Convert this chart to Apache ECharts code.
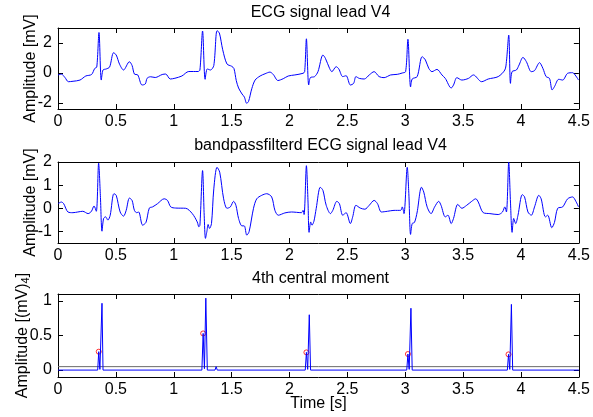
<!DOCTYPE html>
<html>
<head>
<meta charset="utf-8">
<script src="https://cdn.jsdelivr.net/npm/echarts@6/dist/echarts.min.js"></script>
<style>
html, body { margin: 0; padding: 0; background: #fff; }
#chart { width: 593px; height: 417px; }
</style>
</head>
<body>
<div id="chart"></div>
<script>
// raw ECG lead V4, [time s, amplitude mV]
var ecgRaw = [
    [0,-0.13],[0.03,-0.08],[0.06,-0.3],[0.09,-0.58],[0.13,-0.55],[0.19,-0.47],[0.24,-0.2],[0.29,-0.1],
    [0.317,0.3],[0.335,0.4],[0.354,2.7],[0.374,-0.47],[0.389,0.2],[0.417,0.27],[0.446,0.4],[0.48,1.35],
    [0.503,1.2],[0.531,0.6],[0.566,0.2],[0.617,0.75],[0.64,0.5],[0.66,-0.07],[0.689,-0.13],[0.726,-0.8],
    [0.754,-0.73],[0.77,-0.35],[0.8,-0.25],[0.84,-0.3],[0.9,-0.1],[0.93,-0.07],[0.97,-0.4],[1.01,-0.35],
    [1.07,-0.2],[1.13,0.1],[1.21,0.1],[1.226,0.2],[1.249,2.8],[1.271,-0.42],[1.29,0.27],[1.317,0.2],
    [1.346,0.5],[1.374,2.82],[1.394,2.67],[1.423,1.55],[1.46,0.6],[1.5,0.45],[1.52,0.3],[1.54,-0.5],
    [1.56,-1.0],[1.59,-1.4],[1.61,-1.6],[1.63,-2.02],[1.646,-1.9],[1.674,-1.05],[1.703,-0.47],[1.746,-0.2],
    [1.789,-0.05],[1.831,0.06],[1.86,-0.1],[1.9,-0.5],[1.946,-0.38],[1.989,-0.2],[2.046,-0.13],[2.117,-0.02],
    [2.131,0.09],[2.146,2.28],[2.166,-0.8],[2.18,-0.31],[2.217,-0.24],[2.246,0.09],[2.289,1.2],[2.31,0.98],
    [2.346,0.31],[2.366,0.09],[2.403,0.42],[2.426,0.27],[2.46,-0.24],[2.489,-0.18],[2.526,-0.8],[2.554,-0.69],
    [2.574,-0.24],[2.603,-0.36],[2.646,-0.4],[2.689,-0.13],[2.731,0.09],[2.774,-0.24],[2.817,-0.31],[2.874,-0.13],
    [2.931,-0.09],[2.974,0],[3.003,0.09],[3.023,2.25],[3.046,-0.93],[3.06,-0.4],[3.103,-0.24],[3.146,1.09],
    [3.174,0.87],[3.203,0.31],[3.231,0.09],[3.274,0.24],[3.317,-0.13],[3.346,-0.36],[3.397,-1.0],[3.417,-0.8],
    [3.446,-0.31],[3.489,-0.47],[3.546,-0.36],[3.589,-0.13],[3.66,-0.58],[3.717,-0.4],[3.803,-0.24],[3.86,0.2],
    [3.874,0.76],[3.894,2.53],[3.909,-0.69],[3.923,0.09],[3.96,0.2],[3.983,0.53],[4.017,1.04],[4.046,0.76],
    [4.089,0.09],[4.117,0.16],[4.16,0.69],[4.189,0.31],[4.217,-0.24],[4.246,-0.36],[4.269,-1.13],[4.289,-0.91],
    [4.326,-0.42],[4.36,-0.47],[4.403,-0.02],[4.446,0.02],[4.474,-0.2],[4.497,-0.47]
];
// bandpass filtered ECG, [time s, amplitude mV]
var ecgFilt = [
    [0,0.2],[0.029,0.27],[0.049,0.2],[0.086,-0.16],[0.129,-0.19],[0.171,-0.16],[0.214,-0.13],[0.26,-0.23],
    [0.289,-0.13],[0.311,0.1],[0.331,-0.13],[0.351,1.95],[0.366,0.56],[0.38,-0.99],[0.394,-0.44],[0.411,-0.37],
    [0.431,-0.51],[0.451,-0.3],[0.483,0.63],[0.503,0.56],[0.537,-0.16],[0.566,-0.34],[0.589,-0.09],[0.617,0.44],
    [0.64,0.34],[0.66,-0.09],[0.68,-0.19],[0.697,-0.16],[0.731,-0.73],[0.76,-0.61],[0.789,0.01],[0.817,0.06],
    [0.86,0.2],[0.917,0.41],[0.946,0.34],[0.974,0.06],[1.017,0.01],[1.103,0],[1.16,-0.23],[1.203,-0.59],
    [1.217,-0.8],[1.226,-0.73],[1.249,1.63],[1.263,-0.3],[1.274,-1.3],[1.286,-1.01],[1.297,-0.7],[1.309,-0.87],
    [1.326,-0.66],[1.346,0.84],[1.374,1.77],[1.397,1.56],[1.431,0.41],[1.46,0],[1.489,0.06],[1.517,0.3],
    [1.537,0.13],[1.56,-0.44],[1.589,-0.76],[1.609,-0.76],[1.631,-1.16],[1.651,-1.01],[1.689,0],[1.717,0.41],
    [1.76,0.56],[1.803,0.63],[1.846,0.49],[1.874,-0.09],[1.903,-0.3],[1.96,-0.2],[2.017,-0.16],[2.103,-0.19],
    [2.117,-0.09],[2.126,-0.27],[2.146,1.84],[2.16,0.27],[2.169,-1.04],[2.183,-0.59],[2.194,-0.73],[2.211,-0.56],
    [2.231,0],[2.266,0.91],[2.289,0.77],[2.317,0.13],[2.354,-0.23],[2.374,-0.09],[2.409,0.3],[2.431,0.2],
    [2.46,-0.3],[2.489,-0.19],[2.526,-0.66],[2.546,-0.37],[2.574,0.13],[2.611,0.01],[2.651,-0.04],[2.689,0.13],
    [2.731,0.34],[2.76,0.2],[2.794,-0.16],[2.846,-0.13],[2.903,-0.09],[2.96,-0.09],[2.974,0.06],[2.989,-0.23],
    [3.017,1.77],[3.031,0.63],[3.046,-1.13],[3.06,-0.66],[3.08,-0.61],[3.103,-0.16],[3.14,0.91],[3.16,0.7],
    [3.189,0.06],[3.223,-0.23],[3.254,0.06],[3.289,0.3],[3.309,0.13],[3.346,-0.37],[3.369,-0.3],[3.397,-0.66],
    [3.417,-0.44],[3.454,0.17],[3.489,0],[3.531,0.13],[3.574,0.3],[3.609,0.41],[3.631,0.27],[3.674,-0.19],
    [3.731,-0.23],[3.803,-0.27],[3.84,-0.16],[3.86,0.06],[3.874,-0.16],[3.894,1.99],[3.909,0.27],[3.923,-1.04],
    [3.937,-0.44],[3.954,-0.66],[3.974,-0.3],[4.011,0.59],[4.031,0.49],[4.06,-0.16],[4.089,-0.3],[4.117,0.06],
    [4.154,0.56],[4.174,0.41],[4.211,-0.37],[4.231,-0.3],[4.266,-0.84],[4.289,-0.61],[4.317,0],[4.36,0.06],
    [4.403,0.41],[4.446,0.49],[4.474,0.3],[4.497,0.06]
];
// 4th central moment, [time s, (mV)^4]
var moment = [
    [0,0],[0.343,0],[0.352,0.266],[0.362,0.01],[0.372,0.01],[0.38,0.966],[0.389,0],
    [1.243,0],[1.254,0.53],[1.265,0.02],[1.268,0.02],[1.277,1.04],[1.29,0],
    [1.356,0],[1.366,0.05],[1.376,0],
    [2.136,0],[2.146,0.256],[2.157,0.01],[2.162,0.01],[2.171,0.8],[2.182,0],
    [3.013,0],[3.023,0.232],[3.034,0.01],[3.039,0.01],[3.049,0.894],[3.06,0],
    [3.882,0],[3.892,0.227],[3.903,0.01],[3.908,0.01],[3.917,0.95],[3.928,0],
    [4.5,0]
];
// detected peaks (red circles)
var peaks = [[0.352,0.266],[1.254,0.53],[2.146,0.256],[3.023,0.232],[3.892,0.227]];
// threshold level
var threshold = 0.05;

var titles = ['ECG signal lead V4', 'bandpassfilterd ECG signal lead V4', '4th central moment'];
var yRanges = [[-2.4, 3], [-1.5, 2], [-0.1, 1.1]];
var yTicks = [[-2, 0, 2], [-1, 0, 1, 2], [0, 0.5, 1]];

var FONT = '"Liberation Sans", Arial, Helvetica, sans-serif';
var grids = [
    {left: 58, right: 10, top: 28, height: 81},
    {left: 58, right: 10, top: 162, height: 81},
    {left: 58, right: 10, top: 294, height: 83}
];
var titleTops = [5, 138, 271];
var yNameGaps = [19, 19, 27];

var chart = echarts.init(document.getElementById('chart'), null, {renderer: 'canvas'});

var xAxes = [], yAxes = [], series = [], titleArr = [];
for (var i = 0; i < 3; i++) {
    titleArr.push({
        text: titles[i],
        left: 320.5,
        textAlign: 'center',
        top: titleTops[i],
        padding: 0,
        textStyle: {fontFamily: FONT, fontSize: 16, fontWeight: 'normal', color: '#000'}
    });
    var xBase = {
        type: 'value', gridIndex: i, min: 0, max: 4.5, interval: 0.5,
        splitLine: {show: false},
        axisLine: {show: true, onZero: false, lineStyle: {color: '#000', width: 1}},
        axisTick: {show: true, inside: true, length: 5, lineStyle: {color: '#000'}}
    };
    xAxes.push(Object.assign({}, xBase, {
        position: 'bottom',
        axisLabel: {show: true, margin: 5, color: '#000', fontFamily: FONT, fontSize: 16},
        name: i === 2 ? 'Time [s]' : '',
        nameLocation: 'middle',
        nameGap: 19,
        nameMoveOverlap: false,
        nameTextStyle: {fontFamily: FONT, fontSize: 16, color: '#000'}
    }));
    xAxes.push(Object.assign({}, xBase, {position: 'top', axisLabel: {show: false}}));

    var yBase = {
        type: 'value', gridIndex: i, min: yRanges[i][0], max: yRanges[i][1],
        splitLine: {show: false},
        axisLine: {show: true, onZero: false, lineStyle: {color: '#000', width: 1}},
        axisTick: {show: true, inside: true, length: 5, customValues: yTicks[i], lineStyle: {color: '#000'}}
    };
    yAxes.push(Object.assign({}, yBase, {
        position: 'left',
        axisLabel: {show: true, margin: 6, color: '#000', fontFamily: FONT, fontSize: 16, customValues: yTicks[i]},
        name: i === 2 ? '{a|Amplitude [(mV)}{s|4}{a|]}' : 'Amplitude [mV]',
        nameLocation: 'middle',
        nameRotate: 90,
        nameGap: yNameGaps[i],
        nameMoveOverlap: false,
        nameTextStyle: {
            fontFamily: FONT, fontSize: 16, color: '#000',
            rich: {
                a: {fontFamily: FONT, fontSize: 16, color: '#000'},
                s: {fontFamily: FONT, fontSize: 11, color: '#000', verticalAlign: 'bottom'}
            }
        }
    }));
    yAxes.push(Object.assign({}, yBase, {position: 'right', axisLabel: {show: false}}));
}

series.push({
    type: 'line', xAxisIndex: 0, yAxisIndex: 0, data: ecgRaw, smooth: 0.3, symbol: 'none',
    lineStyle: {color: '#0000ff', width: 1}
});
series.push({
    type: 'line', xAxisIndex: 2, yAxisIndex: 2, data: ecgFilt, smooth: 0.3, symbol: 'none',
    lineStyle: {color: '#0000ff', width: 1}
});
series.push({
    type: 'line', xAxisIndex: 4, yAxisIndex: 4, data: [[0, threshold], [4.5, threshold]], symbol: 'none',
    lineStyle: {color: '#6b6b6b', width: 1}
});
series.push({
    type: 'line', xAxisIndex: 4, yAxisIndex: 4, data: moment, symbol: 'none',
    lineStyle: {color: '#0000ff', width: 1}
});
series.push({
    type: 'scatter', xAxisIndex: 4, yAxisIndex: 4, data: peaks, symbol: 'circle', symbolSize: 5,
    itemStyle: {color: 'rgba(0,0,0,0)', borderColor: '#ff0000', borderWidth: 1}
});

chart.setOption({
    animation: false,
    backgroundColor: '#fff',
    title: titleArr,
    grid: grids,
    xAxis: xAxes,
    yAxis: yAxes,
    series: series
});
</script>
</body>
</html>
